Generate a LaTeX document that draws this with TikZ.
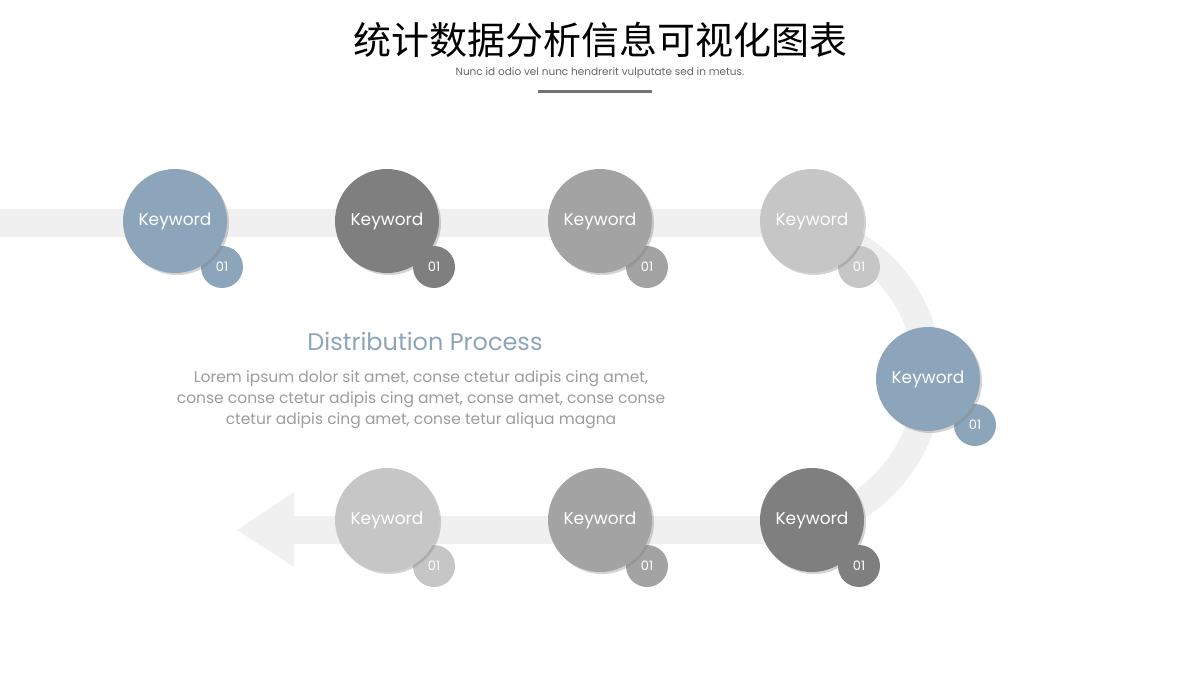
\documentclass[tikz,border=0pt]{standalone}
\usepackage{fontspec}
\setmainfont{Poppins}
\newfontfamily\cjk{Noto Sans CJK SC}
\usetikzlibrary{shadows}
\definecolor{cblue}{HTML}{8CA5BA}
\definecolor{cdark}{HTML}{7F7F7F}
\definecolor{cmid}{HTML}{A3A3A3}
\definecolor{clight}{HTML}{C6C6C6}
\definecolor{band}{HTML}{F0F0F0}
\definecolor{txt}{HTML}{9C9C9C}
\begin{document}
\begin{tikzpicture}[x=1pt,y=-1pt,
  big/.style={circle,minimum size=104pt,inner sep=0pt,text=white,font=\fontsize{17}{20}\selectfont,drop shadow={shadow xshift=2pt,shadow yshift=-2pt,opacity=0.35}},
  small/.style={circle,minimum size=42pt,inner sep=0pt,text=white,font=\fontsize{13}{15}\selectfont}]
\useasboundingbox (0,0) rectangle (1200,675);
\coordinate (bs) at (0,223);
\coordinate (be) at (293,530);
\draw[band,line width=28pt] (bs) -- (775,223) arc[start angle=-90,end angle=90,radius=153.5] -- (be);
\coordinate (tip) at (237,530);
\fill[band] (294,492) -- (294,567) -- (tip) -- cycle;
\node[font=\cjk\fontsize{38}{44}\selectfont] (title) at (600,40) {统计数据分析信息可视化图表};
\node[text=black!60,font=\fontsize{10.5}{12}\selectfont] (sub) at (600,73) {Nunc id odio vel nunc hendrerit vulputate sed in metus.};
\draw[black!55,line width=3pt] (538,91) -- (652,91);
\foreach \n/\x/\y/\c in {a/175/221/cblue,b/387/221/cdark,c/600/221/cmid,d/812/221/clight,e/928/379/cblue,f/812/520/cdark,g/600/520/cmid,h/387/520/clight}{
  \node[small,fill=\c] (\n s) at (\x+47,\y+46) {01};
  \node[big,fill=\c] (\n) at (\x,\y) {Keyword};
}
\node[text=cblue,font=\fontsize{24}{28}\selectfont] (head) at (425,341) {Distribution Process};
\node[text=txt,align=center,font=\fontsize{15.5}{21}\selectfont] (body) at (421,400) {Lorem ipsum dolor sit amet, conse ctetur adipis cing amet,\\conse conse ctetur adipis cing amet, conse amet, conse conse\\ctetur adipis cing amet, conse tetur aliqua magna};
\end{tikzpicture}
\end{document}
